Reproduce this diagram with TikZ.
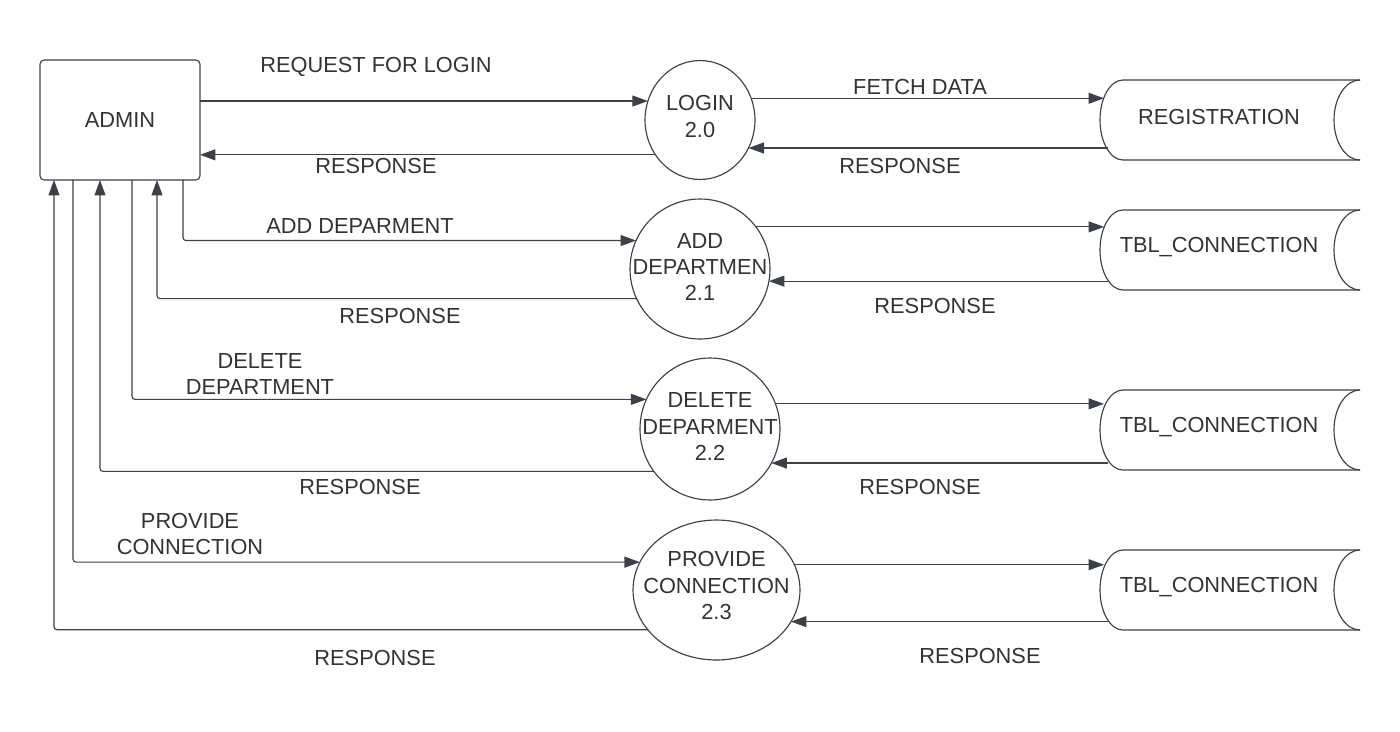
\documentclass[tikz,border=0pt]{standalone}
\usepackage{fontspec}
\setmainfont{Liberation Sans}
\usetikzlibrary{arrows.meta,shapes.geometric,calc}
\definecolor{ln}{RGB}{60,64,72}
\definecolor{tx}{RGB}{51,51,51}
\newcommand{\dstore}[3]{%
  \node[txt] (#1) at (1219,#2-3) {#3};
  \coordinate (#1-in) at (1104,#2);
  \coordinate (#1-out) at (1108,#2);
  \draw[line] (1360,#2-40) -- (1123,#2-40)
     .. controls (1110.3,#2-40) and (1100,#2-22.1) .. (1100,#2)
     .. controls (1100,#2+22.1) and (1110.3,#2+40) .. (1123,#2+40) -- (1360,#2+40);
  \draw[line] (1360,#2-40) .. controls (1345.6,#2-40) and (1334,#2-22.1) .. (1334,#2)
     .. controls (1334,#2+22.1) and (1345.6,#2+40) .. (1360,#2+40);
}
\begin{document}
\begin{tikzpicture}[x=0.02cm,y=-0.02cm,
  every node/.style={font=\fontsize{12.4}{15}\selectfont, text=tx},
  txt/.style={inner sep=0pt, align=center},
  line/.style={draw=ln, line width=0.65pt},
  flow/.style={line, -{Triangle[length=0.31cm,width=0.22cm]}, rounded corners=0.06cm},
  proc/.style={line, ellipse, inner sep=0pt, outer sep=0pt},
  entity/.style={line, rectangle, rounded corners=0.08cm, minimum width=3.2cm, minimum height=2.4cm, inner sep=0pt, outer sep=0pt}
]
\useasboundingbox[fill=white] (0,0) rectangle (1400,731);

% entity
\node[entity] (admin) at (120,120) {ADMIN};

% processes
\node[proc, minimum width=2.2cm, minimum height=2.38cm,
  label={[txt,yshift=0.07cm]center:{LOGIN\\2.0}}] (login) at (700,120) {};
\node[proc, minimum width=2.8cm, minimum height=2.8cm,
  label={[txt,yshift=0.04cm]center:{ADD\\DEPARTMEN\\2.1}}] (add) at (700,269) {};
\node[proc, minimum width=2.8cm, minimum height=2.84cm,
  label={[txt,yshift=0.05cm]center:{DELETE\\DEPARMENT\\2.2}}] (del) at (710,429) {};
\node[proc, minimum width=3.34cm, minimum height=2.8cm,
  label={[txt,yshift=0.09cm]center:{PROVIDE\\CONNECTION\\2.3}}] (prov) at (716.5,590) {};

% data stores
\dstore{reg}{120}{REGISTRATION}
\dstore{tbla}{250}{TBL\_CONNECTION}
\dstore{tblb}{430}{TBL\_CONNECTION}
\dstore{tblc}{590}{TBL\_CONNECTION}

% login flows
\draw[flow] (admin.east |- login.160) -- (login.160);
\draw[flow] (login.218) -- (login.218 -| admin.east);
\draw[flow] (login.23) -- (login.23 -| reg-in);
\draw[flow] (reg-out |- login.330) -- (login.330);

% add department flows
\draw[flow] ($(admin.south east)+(-17,0)$) |- (add.156);
\draw[flow] (add.205) -| ($(admin.south west)+(117,0)$);
\draw[flow] (add.37) -- (add.37 -| tbla-in);
\draw[flow] (tbla-out |- add.350) -- (add.350);

% delete department flows
\draw[flow] ($(admin.south west)+(92,0)$) |- (del.155);
\draw[flow] (del.217) -| ($(admin.south west)+(60,0)$);
\draw[flow] (del.21) -- (del.21 -| tblb-in);
\draw[flow] (tblb-out |- del.331) -- (del.331);

% provide connection flows
\draw[flow] ($(admin.south west)+(33,0)$) |- (prov.160);
\draw[flow] (prov.210) -| ($(admin.south west)+(14,0)$);
\draw[flow] (prov.18) -- (prov.18 -| tblc-in);
\draw[flow] (tblc-out |- prov.337) -- (prov.337);

% labels
\node[txt] (t1) at (376,67) {REQUEST FOR LOGIN};
\node[txt] (t2) at (376,166) {RESPONSE};
\node[txt] (t3) at (920,87) {FETCH DATA};
\node[txt] (t4) at (900,166) {RESPONSE};
\node[txt] (t5) at (360,226) {ADD DEPARMENT};
\node[txt] (t6) at (400,316) {RESPONSE};
\node[txt] (t7) at (935,306) {RESPONSE};
\node[txt] (t8) at (260,374) {DELETE\\DEPARTMENT};
\node[txt] (t9) at (360,487) {RESPONSE};
\node[txt] (t10) at (920,487) {RESPONSE};
\node[txt] (t11) at (190,534) {PROVIDE\\CONNECTION};
\node[txt] (t12) at (375,658) {RESPONSE};
\node[txt] (t13) at (980,656) {RESPONSE};
\end{tikzpicture}
\end{document}
